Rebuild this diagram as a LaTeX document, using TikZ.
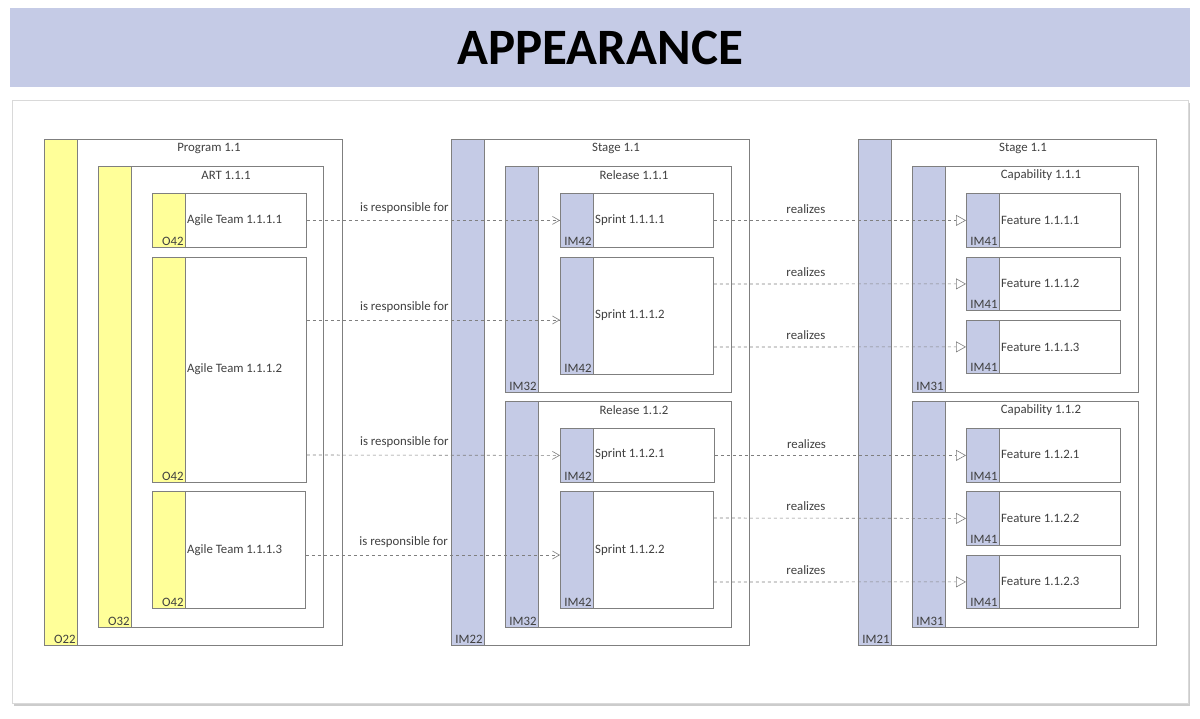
\documentclass[tikz,border=0pt]{standalone}
\usepackage{fontspec}
\setmainfont{Carlito}
\usetikzlibrary{arrows.meta,shadows}
\definecolor{ylw}{HTML}{FFFF99}
\definecolor{blu}{HTML}{C5CBE6}
\definecolor{edge}{HTML}{7F7F7F}
\definecolor{txt}{HTML}{404040}
\tikzset{
 ebox/.style={draw=edge,line width=0.8pt,fill=white,anchor=north west,inner sep=0pt},
 lbl/.style={text=txt,font=\fontsize{12.8}{15}\selectfont,inner sep=1pt},
 code/.style={text=txt,font=\fontsize{12.8}{15}\selectfont,inner sep=1.2pt,anchor=south east},
 resp/.style={draw=edge,dashed,line width=0.6pt,-{Straight Barb[length=7pt,width=8pt]}},
 real/.style={draw=edge,dashed,line width=0.6pt,-{Triangle[open,length=10pt,width=11pt,fill=white]}},
}
\newcommand\ent[7]{%
 \node[ebox,minimum width={(#4-#2)*1pt},minimum height={(#5-#3)*1pt}] (#1) at (#2,#3) {};
 \draw[draw=edge,line width=0.8pt,fill=#6] (#2,#3) rectangle ({#2+33},#5);
 \node[code] (#1c) at ({#2+33},#5) {#7};
}
\begin{document}
\begin{tikzpicture}[x=1pt,y=-1pt]
\useasboundingbox (0,0) rectangle (1200,719);
\fill[white] (0,0) rectangle (1200,719);
\node[fill=blu,minimum width=1180pt,minimum height=79pt,anchor=north west,inner sep=0pt,
 font=\fontsize{51}{55}\selectfont\bfseries] (title) at (10,8) {APPEARANCE};
\node[draw=black!15,fill=white,drop shadow={shadow xshift=2pt,shadow yshift=-3pt,opacity=0.4},
 minimum width=1176pt,minimum height=603pt,anchor=north west,inner sep=0pt] (panel) at (12,100) {};
% left
\ent{prog}{44}{139}{342}{645}{ylw}{O22}
\node[lbl] (progl) at (209,148) {Program 1.1};
\ent{art}{98}{166}{323}{627}{ylw}{O32}
\node[lbl] (artl) at (226,175) {ART 1.1.1};
\ent{t1}{152}{193}{306}{247}{ylw}{O42}
\node[lbl,anchor=west] (t1l) at (186,220) {Agile Team 1.1.1.1};
\ent{t2}{152}{257}{306}{482}{ylw}{O42}
\node[lbl,anchor=west] (t2l) at (186,369) {Agile Team 1.1.1.2};
\ent{t3}{152}{491}{305}{608}{ylw}{O42}
\node[lbl,anchor=west] (t3l) at (186,550) {Agile Team 1.1.1.3};
% middle
\ent{stg}{451}{139}{749}{645}{blu}{IM22}
\node[lbl] (stgl) at (616,148) {Stage 1.1};
\ent{r1}{505}{166}{731}{392}{blu}{IM32}
\node[lbl] (r1l) at (634,175) {Release 1.1.1};
\ent{s1}{560}{193}{713}{247}{blu}{IM42}
\node[lbl,anchor=west] (s1l) at (594,220) {Sprint 1.1.1.1};
\ent{s2}{560}{257}{713}{374}{blu}{IM42}
\node[lbl,anchor=west] (s2l) at (594,315) {Sprint 1.1.1.2};
\ent{r2}{505}{401}{731}{627}{blu}{IM32}
\node[lbl] (r2l) at (634,410) {Release 1.1.2};
\ent{s3}{560}{428}{714}{482}{blu}{IM42}
\node[lbl,anchor=west] (s3l) at (594,454) {Sprint 1.1.2.1};
\ent{s4}{560}{491}{713}{608}{blu}{IM42}
\node[lbl,anchor=west] (s4l) at (594,550) {Sprint 1.1.2.2};
% right
\ent{stg2}{858}{139}{1156}{645}{blu}{IM21}
\node[lbl] (stg2l) at (1023,148) {Stage 1.1};
\ent{c1}{912}{166}{1138}{392}{blu}{IM31}
\node[lbl] (c1l) at (1041,175) {Capability 1.1.1};
\ent{f1}{966}{193}{1120}{247}{blu}{IM41}
\node[lbl,anchor=west] (f1l) at (1000,220) {Feature 1.1.1.1};
\ent{f2}{966}{257}{1120}{310}{blu}{IM41}
\node[lbl,anchor=west] (f2l) at (1000,283) {Feature 1.1.1.2};
\ent{f3}{966}{320}{1120}{373}{blu}{IM41}
\node[lbl,anchor=west] (f3l) at (1000,347) {Feature 1.1.1.3};
\ent{c2}{912}{401}{1138}{627}{blu}{IM31}
\node[lbl] (c2l) at (1041,410) {Capability 1.1.2};
\ent{f4}{966}{428}{1120}{482}{blu}{IM41}
\node[lbl,anchor=west] (f4l) at (1000,454) {Feature 1.1.2.1};
\ent{f5}{966}{491}{1120}{545}{blu}{IM41}
\node[lbl,anchor=west] (f5l) at (1000,518) {Feature 1.1.2.2};
\ent{f6}{966}{555}{1120}{608}{blu}{IM41}
\node[lbl,anchor=west] (f6l) at (1000,581) {Feature 1.1.2.3};
% connectors
\tikzset{rl/.style={lbl,above=6pt,pos=0.385},zl/.style={lbl,above=6pt,pos=0.365}}
\draw[resp] (t1.east) -- node[rl]{is responsible for} (s1.west);
\draw[resp] ([yshift=-63pt]t2.north east) -- node[rl]{is responsible for} ([yshift=-63pt]s2.north west);
\draw[resp] ([yshift=-198pt]t2.north east) -- node[rl]{is responsible for} (s3.west);
\draw[resp] ([yshift=-64pt]t3.north east) -- node[rl]{is responsible for} ([yshift=-64pt]s4.north west);
\draw[real] (s1.east) -- node[zl]{realizes} (f1.west);
\draw[real] ([yshift=-27pt]s2.north east) -- node[zl]{realizes} (f2.west);
\draw[real] ([yshift=-90pt]s2.north east) -- node[zl]{realizes} (f3.west);
\draw[real] (s3.east) -- node[zl]{realizes} (f4.west);
\draw[real] ([yshift=-27pt]s4.north east) -- node[zl]{realizes} (f5.west);
\draw[real] ([yshift=-91pt]s4.north east) -- node[zl]{realizes} (f6.west);
\end{tikzpicture}
\end{document}
